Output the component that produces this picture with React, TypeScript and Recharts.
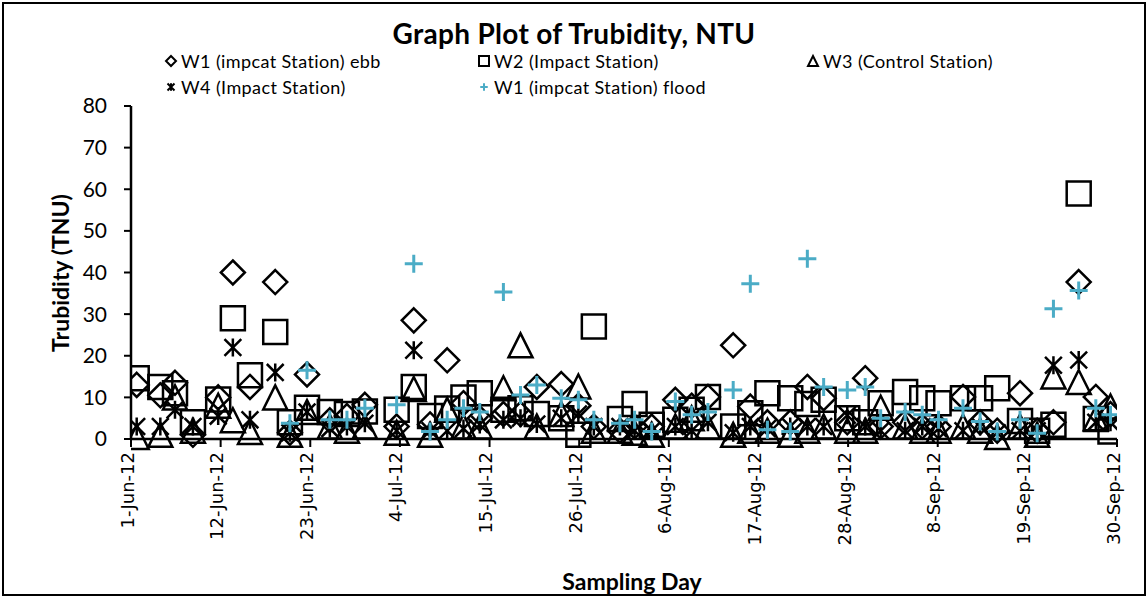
import React from 'react';
import { ScatterChart, Scatter, XAxis, YAxis } from 'recharts';

// sampling times, as days after 1-Jun-12
const sampleDays = [
  0.7, 3.6, 5.4, 7.6, 10.7, 12.5, 14.6, 17.7, 19.5, 21.6, 24.4, 26.5, 28.7,
  32.6, 34.7, 36.7, 38.8, 40.8, 42.8, 45.7, 47.8, 49.8, 52.8, 54.9, 56.8,
  60.0, 61.8, 63.9, 66.8, 68.8, 70.8, 73.9, 76.0, 78.1, 80.9, 83.0, 85.0,
  87.9, 90.1, 92.0, 95.0, 97.1, 99.1, 102.1, 104.2, 106.3, 109.1, 111.2,
  113.2, 116.3, 118.4, 120.2
];

const w1EbbValues = [
  13, 10.5, 13.5, 1, 10, 40, 12.5, 37.7, 1.5, 15.5, 4.5, 5.5, 8.2,
  3, 28.5, 3.5, 18.9, 8.6, 5, 6, 6, 12.5, 13.2, 8, 3,
  2, 3, 3, 9.4, 8, 10.1, 22.5, 7.8, 4, 4, 12.5, 9.8,
  4, 14.6, 3, 4, 3, 3, 10.1, 4, 2, 11, 2,
  4, 37.7, 10.1, 6
];

const w2Values = [
  14.6, 12.5, 11, 4, 9.5, 29, 15.3, 25.7, 4, 7.5, 6.5, 6, 6.6,
  7, 12.5, 5.5, 7.3, 10, 11, 7, 7.4, 6, 5, 1, 27,
  4.8, 8.4, 3.4, 4.6, 7, 10.1, 3, 6.2, 11, 9.8, 8.4, 9.4,
  5, 4, 8.6, 11.3, 9.8, 8.6, 9.8, 9.8, 12.2, 4.3, 2,
  3.4, 59, 4.8, 1.8
];

const w3Values = [
  0.5, 1, 10, 2, 8, 4.5, 1.7, 10, 1, 6.5, 3, 2, 3,
  1.5, 12, 1, 7, 3, 3, 12.2, 22.5, 3, 6, 12.6, 2,
  2, 1.5, 1, 3, 5, 3, 1, 2, 2, 1, 2, 3,
  2, 2, 7.5, 3, 2, 2, 3, 2, 0.5, 3, 1,
  15, 13.7, 5, 7.8
];

const w4Values = [
  3, 3, 7, 3, 5.5, 22, 4.6, 16, 1.5, 6.5, 2.5, 3, 3.8,
  2, 21.3, 2, 2, 2.5, 3.5, 4.6, 5, 3.6, 5, 6, 3,
  3, 2, 2, 3, 2, 4, 1.5, 3, 2.5, 3, 3, 3,
  5.7, 3, 2, 2, 3, 2.5, 2, 3, 1.5, 2, 2,
  17.7, 19, 4, 4
];

// flood samples start on the 9th sampling day
const w1FloodValues = [
  null, null, null, null, null, null, null, null, 3.8, 16.5, 4.6, 4.6, 7.4,
  8.2, 42.1, 1.8, 4.6, 7.4, 6.5, 35.3, 10.6, 13, 9.8, 9.4, 4.6,
  3.8, 4.6, 1.8, 9, 5.8, 6.5, 11.8, 37.3, 2.2, 1.8, 43.3, 12.5,
  11.8, 12.5, 5, 6.5, 5.8, 4.6, 7.4, 4.2, 1.8, 4.6, 1.4,
  31.3, 35.7, 7.4, 5.8
];

const xTicks = [0, 11, 22, 33, 44, 55, 66, 77, 88, 99, 110, 121];
const yTicks = [0, 10, 20, 30, 40, 50, 60, 70, 80];
const MONTHS = ['Jan', 'Feb', 'Mar', 'Apr', 'May', 'Jun', 'Jul', 'Aug', 'Sep', 'Oct', 'Nov', 'Dec'];

const BLUE = '#4bacc6';
const CALIBRI = 'Lato, "Open Sans", sans-serif';

function dayLabel(day: number) {
  const d = new Date(Date.UTC(2012, 5, 1 + day));
  return `${d.getUTCDate()}-${MONTHS[d.getUTCMonth()]}-12`;
}

function toPoints(values: (number | null)[]) {
  return sampleDays
    .map((day, i) => ({ day, value: values[i] }))
    .filter(p => p.value !== null);
}

// Excel-like markers, r = half size
function markerPath(kind: string, cx: number, cy: number, r: number) {
  const s = r * 0.7;
  switch (kind) {
    case 'diamond':
      return `M${cx},${cy - r}L${cx + r},${cy}L${cx},${cy + r}L${cx - r},${cy}Z`;
    case 'triangle':
      return `M${cx},${cy - r}L${cx + r},${cy + r}L${cx - r},${cy + r}Z`;
    case 'square':
      return `M${cx - r},${cy - r}H${cx + r}V${cy + r}H${cx - r}Z`;
    case 'star':
      return `M${cx - s},${cy - s}L${cx + s},${cy + s}M${cx + s},${cy - s}L${cx - s},${cy + s}M${cx},${cy - r * 0.75}L${cx},${cy + r * 0.75}`;
    default:
      return `M${cx - r * 0.75},${cy}L${cx + r * 0.75},${cy}M${cx},${cy - r * 0.75}L${cx},${cy + r * 0.75}`;
  }
}

const makeShape = (kind: string) => (p: any) => (
  <path
    d={markerPath(kind, p.cx, p.cy, 12)}
    fill="none"
    stroke={kind === 'plus' ? BLUE : '#000'}
    strokeWidth={kind === 'plus' ? 3 : 2.5}
  />
);

const DateTick = (props: any) => {
  const { x, y, payload } = props;
  const tx = x - 4;
  return (
    <text
      x={tx}
      y={y}
      transform={`rotate(-90, ${tx}, ${y})`}
      textAnchor="end"
      dominantBaseline="central"
      fontFamily='"DejaVu Sans", sans-serif'
      fontSize={18}
      fill="#000"
    >
      {dayLabel(payload.value)}
    </text>
  );
};

const legendItems = [
  { label: 'W1 (impcat Station) ebb', icon: 'diamond', left: 165, top: 50 },
  { label: 'W2 (Impact Station)', icon: 'square', left: 478, top: 50 },
  { label: 'W3 (Control Station)', icon: 'triangle', left: 807, top: 50 },
  { label: 'W4 (Impact Station)', icon: 'star', left: 165, top: 76 },
  { label: 'W1 (impcat Station) flood', icon: 'plus', left: 478, top: 76 }
];

function LegendIcon({ icon }: { icon: string }) {
  return (
    <svg width={12} height={12} style={{ overflow: 'visible', marginRight: 4 }}>
      <path
        d={markerPath(icon, 6, 6, 5)}
        fill="none"
        stroke={icon === 'plus' ? BLUE : '#000'}
        strokeWidth={2}
      />
    </svg>
  );
}

export default function App() {
  return (
    <div style={{ position: 'absolute', left: 0, top: 0, width: 1148, height: 598, background: '#fff' }}>
      <div
        style={{
          position: 'absolute', left: 2, top: 2, width: 1144, height: 594,
          border: '2px solid #000', boxSizing: 'border-box'
        }}
      />
      <div
        style={{
          position: 'absolute', left: 0, top: 16, width: 1148, textAlign: 'center',
          fontFamily: CALIBRI, fontWeight: 700, fontSize: 28, lineHeight: '34px', letterSpacing: 0.3
        }}
      >
        Graph Plot of Trubidity, NTU
      </div>
      {legendItems.map(item => (
        <div
          key={item.label}
          style={{
            position: 'absolute', left: item.left, top: item.top, display: 'flex',
            alignItems: 'center', fontFamily: CALIBRI, fontSize: 18, lineHeight: '22px',
            letterSpacing: 0.4, whiteSpace: 'nowrap'
          }}
        >
          <LegendIcon icon={item.icon} />
          {item.label}
        </div>
      ))}
      <div
        style={{
          position: 'absolute', left: 60, top: 273, transform: 'translate(-50%, -50%) rotate(-90deg)',
          fontFamily: CALIBRI, fontWeight: 700, fontSize: 23, whiteSpace: 'nowrap'
        }}
      >
        Trubidity (TNU)
      </div>
      <div
        style={{
          position: 'absolute', left: 632, top: 581, transform: 'translate(-50%, -50%)',
          fontFamily: CALIBRI, fontWeight: 700, fontSize: 23, whiteSpace: 'nowrap'
        }}
      >
        Sampling Day
      </div>
      <div style={{ position: 'absolute', left: 0, top: 0 }}>
        <ScatterChart width={1148} height={598} margin={{ top: 106, right: 31, bottom: 59, left: 0 }}>
          <XAxis
            type="number"
            dataKey="day"
            domain={[0, 121]}
            ticks={xTicks}
            interval={0}
            height={100}
            tick={<DateTick />}
            tickSize={8}
            tickMargin={5}
            axisLine={{ stroke: '#000', strokeWidth: 2.5 }}
            tickLine={{ stroke: '#000', strokeWidth: 2 }}
            allowDataOverflow
          />
          <YAxis
            type="number"
            dataKey="value"
            domain={[0, 80]}
            ticks={yTicks}
            interval={0}
            width={131}
            tickSize={7}
            tickMargin={17}
            tick={{ fill: '#000', fontSize: 21, fontFamily: CALIBRI }}
            axisLine={{ stroke: '#000', strokeWidth: 2.5 }}
            tickLine={{ stroke: '#000', strokeWidth: 2 }}
          />
          <Scatter name="W1 (impcat Station) ebb" data={toPoints(w1EbbValues)} shape={makeShape('diamond')} isAnimationActive={false} />
          <Scatter name="W2 (Impact Station)" data={toPoints(w2Values)} shape={makeShape('square')} isAnimationActive={false} />
          <Scatter name="W3 (Control Station)" data={toPoints(w3Values)} shape={makeShape('triangle')} isAnimationActive={false} />
          <Scatter name="W4 (Impact Station)" data={toPoints(w4Values)} shape={makeShape('star')} isAnimationActive={false} />
          <Scatter name="W1 (impcat Station) flood" data={toPoints(w1FloodValues)} shape={makeShape('plus')} isAnimationActive={false} />
        </ScatterChart>
      </div>
    </div>
  );
}
